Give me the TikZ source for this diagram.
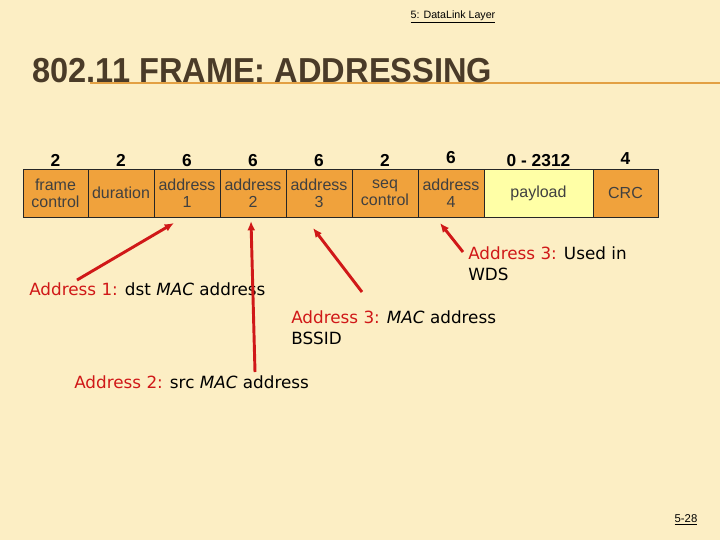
\documentclass[tikz,border=0pt]{standalone}
\usepackage{fontspec}
\setmainfont{Liberation Sans}
\newfontfamily\notefont{DejaVu Sans}
\usetikzlibrary{positioning,arrows.meta}

\definecolor{slidebg}{HTML}{FCEEC4}
\definecolor{titlebrown}{HTML}{4A3B28}
\definecolor{titlerule}{HTML}{E3A043}
\definecolor{fieldorange}{HTML}{F0A23C}
\definecolor{payloadyellow}{HTML}{FFFFA6}
\definecolor{notered}{HTML}{D01818}

\begin{document}
\begin{tikzpicture}[
        x=0.75pt, y=-0.75pt,
        field/.style={draw=black!85, fill=fieldorange, minimum width=49.5pt, minimum height=36pt,
                      inner sep=0pt, outer sep=0pt, align=center, text=black!75,
                      font=\fontsize{12}{12.5}\selectfont},
        bytes/.style={font=\fontsize{13}{13}\selectfont\bfseries, inner sep=1.5pt},
        note/.style={font=\notefont\fontsize{12.6}{15.5}\selectfont, align=left, inner sep=0pt},
        pointer/.style={draw=notered, line width=2.2pt, -{Latex[length=7pt,width=6pt]}}
    ]
        \fill[slidebg] (0,0) rectangle (720,540);
        \useasboundingbox (0,0) rectangle (720,540);

        % header, title and footer
        \node[font=\fontsize{8}{9}\selectfont, inner sep=0pt] (chapter) at (453,17) {\underline{5: DataLink Layer}};
        \coordinate (ruleL) at (90,83);
        \coordinate (ruleR) at (720,83);
        \draw[titlerule, line width=2.2pt] (ruleL) -- (ruleR);
        \node[anchor=base west, inner sep=0pt, text=titlebrown, font=\fontsize{26}{26}\selectfont\bfseries] (title) at (32,82)
            {\scalebox{0.94}[1]{802.11 FRAME: ADDRESSING}};
        \node[font=\fontsize{8.5}{9}\selectfont, inner sep=0pt] (page) at (686,520) {\underline{5-28}};

        % frame fields
        \node[field, minimum width=48.75pt, anchor=west] (fc) at (23,193) {frame\\control};
        \node[field, right=0pt of fc] (dur) {duration};
        \node[field, right=0pt of dur] (a1) {address\\1};
        \node[field, right=0pt of a1] (a2) {address\\2};
        \node[field, right=0pt of a2] (a3) {address\\3};
        \node[field, right=0pt of a3] (seq) {seq\\control};
        \node[field, right=0pt of seq] (a4) {address\\4};
        \node[field, fill=payloadyellow, minimum width=81.75pt, right=0pt of a4] (pay) {payload};
        \node[field, minimum width=48.75pt, right=0pt of pay] (crc) {CRC};

        % field lengths
        \node[bytes, above=0pt of fc] {2};
        \node[bytes, above=0pt of dur] {2};
        \node[bytes, above=0pt of a1] {6};
        \node[bytes, above=0pt of a2] {6};
        \node[bytes, above=0pt of a3] {6};
        \node[bytes, above=0pt of seq] {2};
        \node[bytes, above=2pt of a4] {6};
        \node[bytes, above=0pt of pay] {0 - 2312};
        \node[bytes, above=2pt of crc] {4};

        % notes (base = last line)
        \node[note, anchor=base west] (n1) at (29,295) {\textcolor{notered}{Address 1:} dst \textit{MAC} address};
        \node[note, anchor=base west] (n2) at (74,388) {\textcolor{notered}{Address 2:} src \textit{MAC} address};
        \node[note, anchor=base west] (n3) at (291,344) {\textcolor{notered}{Address 3:} \textit{MAC} address\\BSSID};
        \node[note, anchor=base west] (n4) at (468,280) {\textcolor{notered}{Address 3:} Used in\\WDS};

        % pointers
        \coordinate (t1) at (174,223);
        \coordinate (t2) at (251,221);
        \coordinate (t3) at (313,228);
        \coordinate (t4) at (440,223);
        \coordinate (s1) at (77,280);
        \coordinate (s2) at (255,372);
        \coordinate (s3) at (362,292);
        \coordinate (s4) at (463,252);
        \draw[pointer] (s1) -- (t1);
        \draw[pointer] (s2) -- (t2);
        \draw[pointer] (s3) -- (t3);
        \draw[pointer] (s4) -- (t4);
    \end{tikzpicture}
\end{document}
